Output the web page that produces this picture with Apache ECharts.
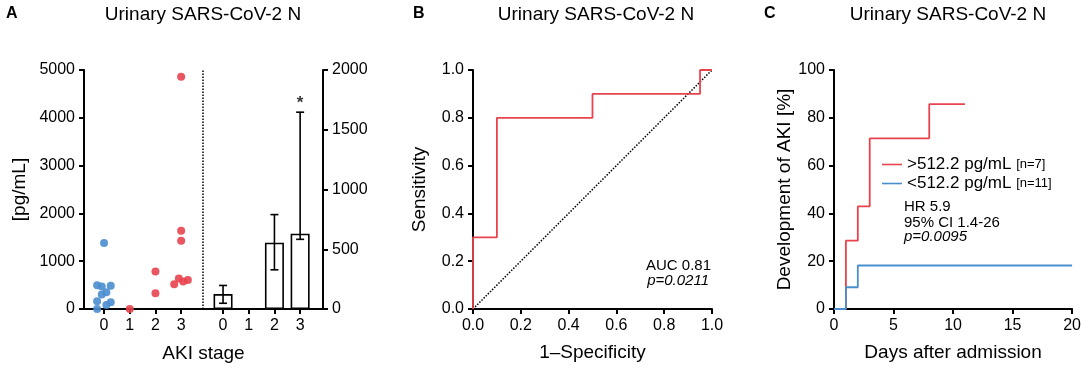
<!DOCTYPE html>
<html>
<head>
<meta charset="utf-8">
<script src="https://cdn.jsdelivr.net/npm/echarts@6/dist/echarts.min.js"></script>
<style>
  html, body { margin: 0; padding: 0; background: #fff; }
  #chart { width: 1084px; height: 369px; }
</style>
</head>
<body>
<div id="chart"></div>
<script>
const FONT = 'Liberation Sans, Arial, sans-serif'
const RED = '#e8444e'
const BLUE = '#4a8ecf'

// panel A, dot plot: [stage (with jitter), pg/mL]
const stageLabels = ['0', '1', '2', '3']
const dotsNoAki = [[-0.27, 498], [-0.09, 470], [0.26, 484], [0.09, 351], [-0.09, 302],
  [-0.27, 162], [0.26, 141], [0.09, 85], [-0.27, 0], [0, 1380]]
const dotsAki = [[1, 0], [2, 785], [2, 330], [3, 4861], [3, 1639], [3, 1429],
  [2.73, 519], [2.91, 639], [3.08, 575], [3.26, 609]]
// panel A, bars (right axis): mean and error range per stage
const barStages = [0, 1, 2, 3]
const barMeans = [125, 0, 555, 630]
const errLow = [48, 0, 328, 583]
const errHigh = [197, 0, 790, 1647]
const starStage = 3

// panel B, ROC
const fpr = [0, 0.1, 0.5, 0.95, 1]
const tpr = [0, 0.3, 0.8, 0.9, 1]

// panel C, cumulative incidence of AKI
const highDays = [0, 1, 2, 3, 8, 11]
const highAki = [0, 28.6, 42.9, 71.4, 85.7, 85.7]
const lowDays = [0, 1, 2, 20]
const lowAki = [0, 9.1, 18.2, 18.2]

const chart = echarts.init(document.getElementById('chart'))

function label(formatter, extra) {
  return Object.assign({ color: '#000', fontSize: 16, fontFamily: FONT, margin: 9, formatter: formatter }, extra)
}

function axis(extra) {
  return Object.assign({
    type: 'value',
    splitLine: { show: false },
    axisLine: { show: true, onZero: false, lineStyle: { color: '#000', width: 2 } },
    axisTick: { show: true, length: 5, lineStyle: { color: '#000', width: 2 } },
    axisLabel: label((v) => String(v)),
    nameLocation: 'middle',
    nameTextStyle: { color: '#000', fontSize: 19, fontFamily: FONT }
  }, extra)
}

function stageAxis(gridIndex, max) {
  return axis({
    gridIndex: gridIndex,
    min: -0.78,
    max: max,
    axisTick: { show: true, length: 5, lineStyle: { color: '#000', width: 2 }, customValues: [0, 1, 2, 3] },
    axisLabel: label((v) => stageLabels[Math.round(v)], { customValues: [0, 1, 2, 3] })
  })
}

function text(x, y, str, opts) {
  return {
    type: 'text', x: x, y: y, silent: true,
    style: Object.assign({
      text: str, fill: '#000', fontSize: 15, fontFamily: FONT,
      textAlign: 'left', textVerticalAlign: 'middle'
    }, opts)
  }
}

const errData = barStages.map((s, i) => [s, errLow[i], errHigh[i]]).filter((d) => d[2] > 0)

chart.setOption({
  animation: false,
  grid: [
    { left: 84, top: 70, width: 119, height: 239 },
    { left: 203, top: 70, width: 120, height: 239 },
    { left: 473, top: 70, width: 239, height: 239 },
    { left: 834, top: 70, width: 239, height: 239 }
  ],
  xAxis: [
    stageAxis(0, 3.85),
    stageAxis(1, 3.89),
    axis({ gridIndex: 2, min: 0, max: 1, interval: 0.2, name: '1–Specificity', nameGap: 34,
      axisLabel: label((v) => v.toFixed(1)) }),
    axis({ gridIndex: 3, min: 0, max: 20, interval: 5, name: 'Days after admission', nameGap: 34 })
  ],
  yAxis: [
    axis({ gridIndex: 0, min: 0, max: 5000, interval: 1000, name: '[pg/mL]', nameGap: 55 }),
    axis({ gridIndex: 1, min: 0, max: 2000, interval: 500, position: 'right' }),
    axis({ gridIndex: 2, min: 0, max: 1, interval: 0.2, name: 'Sensitivity', nameGap: 44,
      axisLabel: label((v) => v.toFixed(1)) }),
    axis({ gridIndex: 3, min: 0, max: 100, interval: 20, name: 'Development of AKI [%]', nameGap: 38 })
  ],
  legend: {
    orient: 'vertical',
    left: 877,
    top: 151,
    icon: 'rect',
    itemWidth: 20,
    itemHeight: 1.6,
    itemGap: 2,
    data: ['>512.2 pg/mL', '<512.2 pg/mL'],
    formatter: (name) => name + ' {n|' + (name[0] === '>' ? '[n=7]' : '[n=11]') + '}',
    textStyle: {
      color: '#000', fontSize: 17, fontFamily: FONT,
      rich: { n: { fontSize: 13, fontFamily: FONT, color: '#000' } }
    }
  },
  series: [
    {
      type: 'scatter', xAxisIndex: 0, yAxisIndex: 0, clip: false,
      symbolSize: 8, itemStyle: { color: BLUE, opacity: 0.9 },
      data: dotsNoAki
    },
    {
      type: 'scatter', xAxisIndex: 0, yAxisIndex: 0, clip: false,
      symbolSize: 8, itemStyle: { color: RED, opacity: 0.9 },
      data: dotsAki,
      markLine: {
        silent: true, symbol: ['none', 'none'], label: { show: false },
        lineStyle: { type: 'dotted', color: '#000', width: 1.5 },
        data: [{ xAxis: 3.84 }]
      }
    },
    {
      type: 'bar', xAxisIndex: 1, yAxisIndex: 1, barWidth: 19,
      itemStyle: { color: '#fff', borderColor: '#000', borderWidth: 1.6 },
      data: barStages.map((s, i) => [s, barMeans[i]])
    },
    {
      type: 'custom', xAxisIndex: 1, yAxisIndex: 1, z: 5,
      renderItem: (params, api) => {
        const top = api.coord([api.value(0), api.value(2)])
        const bot = api.coord([api.value(0), api.value(1)])
        const cap = 4
        const st = { stroke: '#000', lineWidth: 1.6 }
        return {
          type: 'group',
          children: [
            { type: 'line', shape: { x1: top[0], y1: top[1], x2: bot[0], y2: bot[1] }, style: st },
            { type: 'line', shape: { x1: top[0] - cap, y1: top[1], x2: top[0] + cap, y2: top[1] }, style: st },
            { type: 'line', shape: { x1: bot[0] - cap, y1: bot[1], x2: bot[0] + cap, y2: bot[1] }, style: st }
          ]
        }
      },
      data: errData
    },
    {
      type: 'scatter', xAxisIndex: 1, yAxisIndex: 1, symbolSize: 0, silent: true,
      label: { show: true, position: 'top', distance: 0, formatter: '*', color: '#000',
        fontSize: 17, fontWeight: 'bold', fontFamily: FONT },
      data: [[starStage, errHigh[starStage]]]
    },
    {
      type: 'line', xAxisIndex: 2, yAxisIndex: 2, symbol: 'none',
      lineStyle: { color: '#000', width: 1.5, type: 'dotted' },
      data: [[0, 0], [1, 1]]
    },
    {
      type: 'line', xAxisIndex: 2, yAxisIndex: 2, symbol: 'none', step: 'start', clip: false,
      lineStyle: { color: RED, width: 1.8 },
      data: fpr.map((x, i) => [x, tpr[i]])
    },
    {
      name: '>512.2 pg/mL', type: 'line', xAxisIndex: 3, yAxisIndex: 3, symbol: 'none', step: 'end',
      color: RED, lineStyle: { color: RED, width: 1.8 },
      data: highDays.map((d, i) => [d, highAki[i]])
    },
    {
      name: '<512.2 pg/mL', type: 'line', xAxisIndex: 3, yAxisIndex: 3, symbol: 'none', step: 'end',
      color: BLUE, lineStyle: { color: BLUE, width: 1.8 },
      data: lowDays.map((d, i) => [d, lowAki[i]])
    }
  ],
  graphic: [
    text(6, 14, 'A', { fontWeight: 'bold', fontSize: 16 }),
    text(413, 14, 'B', { fontWeight: 'bold', fontSize: 16 }),
    text(764, 14, 'C', { fontWeight: 'bold', fontSize: 16 }),
    text(203, 15, 'Urinary SARS-CoV-2 N', { fontSize: 19, textAlign: 'center' }),
    text(596, 15, 'Urinary SARS-CoV-2 N', { fontSize: 19, textAlign: 'center' }),
    text(948, 15, 'Urinary SARS-CoV-2 N', { fontSize: 19, textAlign: 'center' }),
    text(203.5, 354, 'AKI stage', { fontSize: 19, textAlign: 'center' }),
    text(711, 266, 'AUC 0.81', { textAlign: 'right' }),
    text(709, 281, 'p=0.0211', { textAlign: 'right', fontStyle: 'italic' }),
    text(904, 207, 'HR 5.9'),
    text(904, 223, '95% CI 1.4-26'),
    text(904, 237, 'p=0.0095', { fontStyle: 'italic' })
  ]
})
</script>
</body>
</html>
